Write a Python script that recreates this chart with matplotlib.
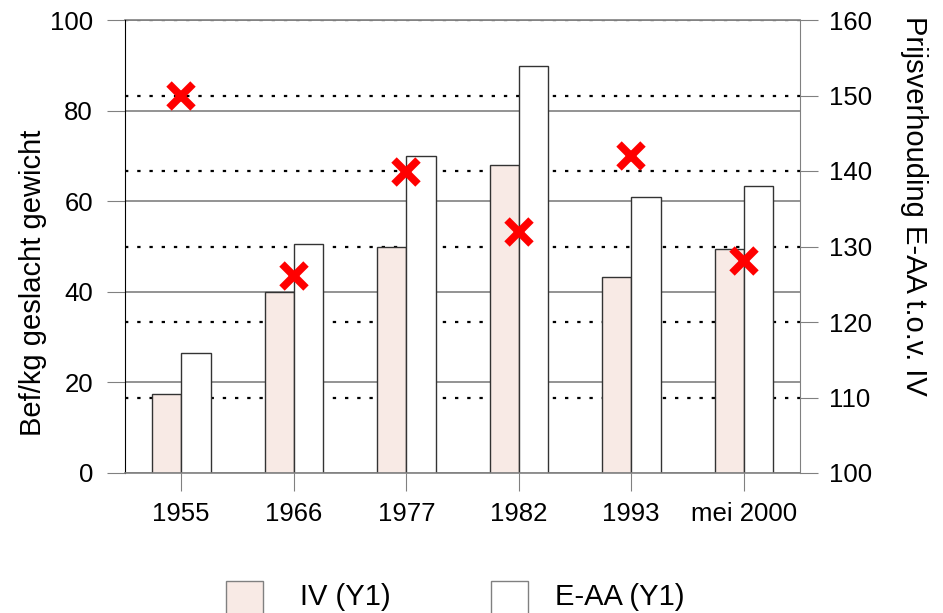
import numpy as np
import matplotlib
matplotlib.use("Agg")
import matplotlib.pyplot as plt
from matplotlib.patches import Rectangle

plt.rcParams['font.family'] = ['Liberation Sans', 'DejaVu Sans']

# data
jaren = ['1955', '1966', '1977', '1982', '1993', 'mei 2000']
iv = [17.4, 40.0, 49.9, 68.0, 43.3, 49.4]
eaa = [26.5, 50.5, 70.0, 89.8, 61.0, 63.4]
prijsverhouding = [150.0, 126.1, 139.9, 131.9, 142.0, 128.1]

iv_kleur = '#f8eae5'
grijs = '#808080'

fig = plt.figure(figsize=(9.43, 6.13), dpi=100)
rect = [125/943, 1 - 473/613, 675/943, 453/613]

# achterste as: rechter schaal + stippellijnen
ax2 = fig.add_axes(rect)
ax2.set_xlim(-0.5, 5.5)
ax2.set_ylim(100, 160)
ax2.yaxis.tick_right()
ax2.yaxis.set_label_position('right')
ax2.set_yticks(range(100, 161, 10))
ax2.set_xticks([])
for v in range(110, 161, 10):
    ax2.axhline(v, color='black', lw=1.6, linestyle=(0, (1.5, 4)), zorder=1)
for s in ['top', 'left', 'bottom']:
    ax2.spines[s].set_visible(False)
ax2.spines['right'].set_color(grijs)
ax2.tick_params(axis='y', length=13, color=grijs, labelsize=18.5, pad=8)
ax2.set_ylabel('Prijsverhouding E-AA t.o.v. IV', fontsize=21, rotation=-90, labelpad=40)
ax2.yaxis.label.set_y(0.59)

# voorste as: staven
ax = fig.add_axes(rect)
ax.patch.set_visible(False)
x = np.arange(len(jaren))
w = 0.26
ax.set_axisbelow(True)
ax.yaxis.grid(True, color=grijs, lw=1.2)
ax.bar(x - w/2, iv, w, color=iv_kleur, edgecolor='#333333', lw=1, zorder=2)
ax.bar(x + w/2, eaa, w, color='white', edgecolor='#333333', lw=1, zorder=2)
ax.set_xlim(-0.5, 5.5)
ax.set_ylim(0, 100)
ax.set_yticks(range(0, 101, 20))
ax.set_xticks(x)
ax.set_xticklabels(jaren)
ax.spines['right'].set_visible(False)
ax.spines['top'].set_visible(False)
ax.spines['left'].set_color('black')
ax.spines['bottom'].set_color(grijs)
ax.spines['bottom'].set_linewidth(1.2)
ax.tick_params(axis='y', length=13, color=grijs, labelsize=18.5, pad=10)
ax.tick_params(axis='x', length=13, color=grijs, labelsize=18.5, pad=8)
ax.set_ylabel('Bef/kg geslacht gewicht', fontsize=21, labelpad=2)
ax.yaxis.label.set_y(0.42)
ax.axhline(100, color=grijs, lw=1.2, clip_on=False, zorder=1)

# bovenste as: kruisjes
ax3 = fig.add_axes(rect)
ax3.patch.set_visible(False)
ax3.set_xlim(-0.5, 5.5)
ax3.set_ylim(100, 160)
ax3.axis('off')
ax3.plot(x, prijsverhouding, linestyle='none', marker='x', color='red',
         markersize=17, mew=5.5, clip_on=False)

# legenda
fig.patches.append(Rectangle((226/943, -0.01), 37/943, 38/613, transform=fig.transFigure,
                             facecolor=iv_kleur, edgecolor=grijs, lw=1))
fig.patches.append(Rectangle((491/943, -0.01), 37/943, 38/613, transform=fig.transFigure,
                             facecolor='white', edgecolor=grijs, lw=1))
fig.text(300/943, 1 - 597/613, 'IV (Y1)', fontsize=21, va='center')
fig.text(555/943, 1 - 597/613, 'E-AA (Y1)', fontsize=21, va='center')

fig.savefig('out.png', dpi=100)
